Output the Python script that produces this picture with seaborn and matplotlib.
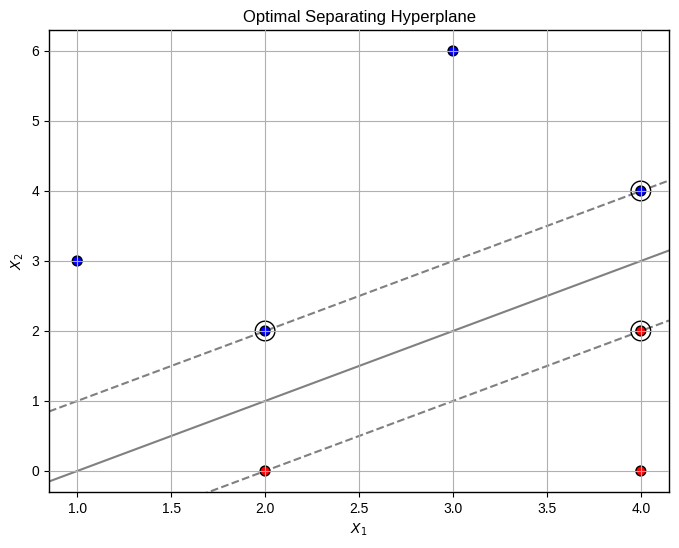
import numpy as np
import pandas as pd
import matplotlib
matplotlib.use("Agg")
import matplotlib.pyplot as plt
import seaborn as sns

# Datos de los puntos
x1 = [3, 2, 4, 1, 2, 4, 4]
x2 = [6, 2, 4, 3, 0, 2, 0]
clase = ['Blue', 'Blue', 'Blue', 'Blue', 'Red', 'Red', 'Red']

# Vectores de soporte
sv_x1 = [2, 4, 4]
sv_x2 = [2, 4, 2]

# Hiperplano: w1*x1 + w2*x2 + b = 0
w = [1.0, -1.0]
b = -1.0

df = pd.DataFrame({'X1': x1, 'X2': x2, 'clase': clase})

sns.set_style("ticks")
plt.rcParams['font.family'] = ['Liberation Sans', 'DejaVu Sans']
plt.rcParams['text.color'] = 'black'
plt.rcParams['axes.labelcolor'] = 'black'
plt.rcParams['xtick.color'] = 'black'
plt.rcParams['ytick.color'] = 'black'

fig, ax = plt.subplots(figsize=(6.79, 5.48), dpi=100)
fig.subplots_adjust(left=0.0722, right=0.9853, bottom=0.1022, top=0.9453)

sns.scatterplot(data=df, x='X1', y='X2', hue='clase',
                palette={'Blue': 'blue', 'Red': 'red'},
                s=50, edgecolor='black', linewidth=1, legend=False, ax=ax, zorder=2)
ax.scatter(sv_x1, sv_x2, s=200, facecolors='none', edgecolors='black', linewidths=1, zorder=2)

xlim = (0.85, 4.15)
xx = np.linspace(xlim[0], xlim[1], 100)
for offset, style in [(0, '-'), (1, '--'), (-1, '--')]:
    yy = (w[0] * xx + b - offset) / -w[1]
    ax.plot(xx, yy, color='gray', linestyle=style, linewidth=1.5, zorder=1)

ax.set_xlim(xlim)
ax.set_ylim(-0.3, 6.3)
ax.set_xlabel('$X_1$', color='black')
ax.set_ylabel('$X_2$', color='black')
ax.set_title('Optimal Separating Hyperplane', color='black')
ax.grid(True, color='#b0b0b0', linewidth=0.8)
ax.set_axisbelow(False)
for sp in ax.spines.values():
    sp.set_color('black')
    sp.set_linewidth(1.0)
ax.tick_params(colors='black', labelcolor='black', labelsize=10, length=3.5, width=0.8)

plt.savefig('out.png', dpi=100)
